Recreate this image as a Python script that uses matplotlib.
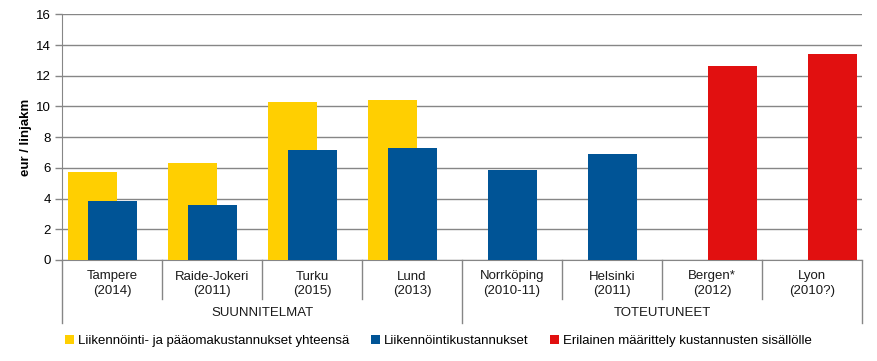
import numpy as np
import matplotlib
matplotlib.use("Agg")
import matplotlib.pyplot as plt
from matplotlib.patches import Patch
from matplotlib.transforms import blended_transform_factory

plt.rcParams['font.family'] = ['Liberation Sans', 'DejaVu Sans']

cities = ["Tampere", "Raide-Jokeri", "Turku", "Lund", "Norrköping", "Helsinki", "Bergen*", "Lyon"]
years = ["(2014)", "(2011)", "(2015)", "(2013)", "(2010-11)", "(2011)", "(2012)", "(2010?)"]
groups = ["SUUNNITELMAT", "TOTEUTUNEET"]
group_sizes = [4, 4]

total_costs = [5.73, 6.32, 10.28, 10.41, np.nan, np.nan, np.nan, np.nan]
operating_costs = [3.84, 3.58, 7.16, 7.29, 5.86, 6.9, np.nan, np.nan]
different_def = [np.nan, np.nan, np.nan, np.nan, np.nan, np.nan, 12.64, 13.42]

series_names = ["Liikennöinti- ja pääomakustannukset yhteensä",
                "Liikennöintikustannukset",
                "Erilainen määrittely kustannusten sisällölle"]
colors = ["#FFCF01", "#005496", "#E11010"]
yticks = [0, 2, 4, 6, 8, 10, 12, 14, 16]

W, H = 877, 361
fig = plt.figure(figsize=(W / 100, H / 100), dpi=100)
ax = fig.add_axes([62 / W, 1 - 260 / H, 800 / W, (260 - 14.3) / H])

x = np.arange(len(cities))
bw = 0.49
grid_c = "#868686"
ax.bar(x - 0.2, total_costs, bw, color=colors[0], zorder=3)
ax.bar(x, operating_costs, bw, color=colors[1], zorder=3)
ax.bar(x + 0.2, different_def, bw, color=colors[2], zorder=3)

ax.set_xlim(-0.5, len(cities) - 0.5)
ax.set_ylim(0, 16)
ax.set_yticks(yticks)
ax.set_yticklabels([str(t) for t in yticks], fontsize=9.5)
ax.yaxis.grid(True, color=grid_c, linewidth=1)
ax.set_axisbelow(True)
for s in ["top", "right"]:
    ax.spines[s].set_visible(False)
ax.spines["left"].set_color(grid_c)
ax.spines["bottom"].set_color(grid_c)
ax.tick_params(axis="y", length=5, color=grid_c, width=1, pad=3)
ax.set_xticks([])
ax.set_ylabel("eur / linjakm", fontsize=9.5, fontweight="bold", labelpad=3)

tr = blended_transform_factory(ax.transData, ax.transAxes)
ax_h = 260 - 14.3
def ypix(p):
    # convert pixel y below axis bottom into axes fraction
    return -(p - 260) / ax_h

# category labels
for i, (c, yr) in enumerate(zip(cities, years)):
    ax.text(i, ypix(270.5), c + "\n" + yr, transform=tr, ha="center", va="top",
            fontsize=9.5, linespacing=1.25, color="#1a1a1a")

# separators
start = 0
bounds = [-0.5]
for gs in group_sizes:
    start += gs
    bounds.append(start - 0.5)
for b in np.arange(-0.5, len(cities), 1.0):
    outer = any(abs(b - bb) < 1e-9 for bb in bounds)
    ax.plot([b, b], [0, ypix(323 if outer else 299)], transform=tr,
            color=grid_c, linewidth=1, clip_on=False)

# group labels
start = 0
for g, gs in zip(groups, group_sizes):
    center = start + (gs - 1) / 2
    ax.text(center, ypix(313), g, transform=tr, ha="center", va="center",
            fontsize=9.5, color="#1a1a1a")
    start += gs

handles = [Patch(facecolor=c, edgecolor="none") for c in colors]
fig.legend(handles, series_names, loc="center", bbox_to_anchor=(0.5, 1 - 341 / H),
           ncol=3, frameon=False, fontsize=9.5, handlelength=0.7, handleheight=0.7,
           handletextpad=0.3, columnspacing=1.6)

fig.savefig("out.png", dpi=100)
